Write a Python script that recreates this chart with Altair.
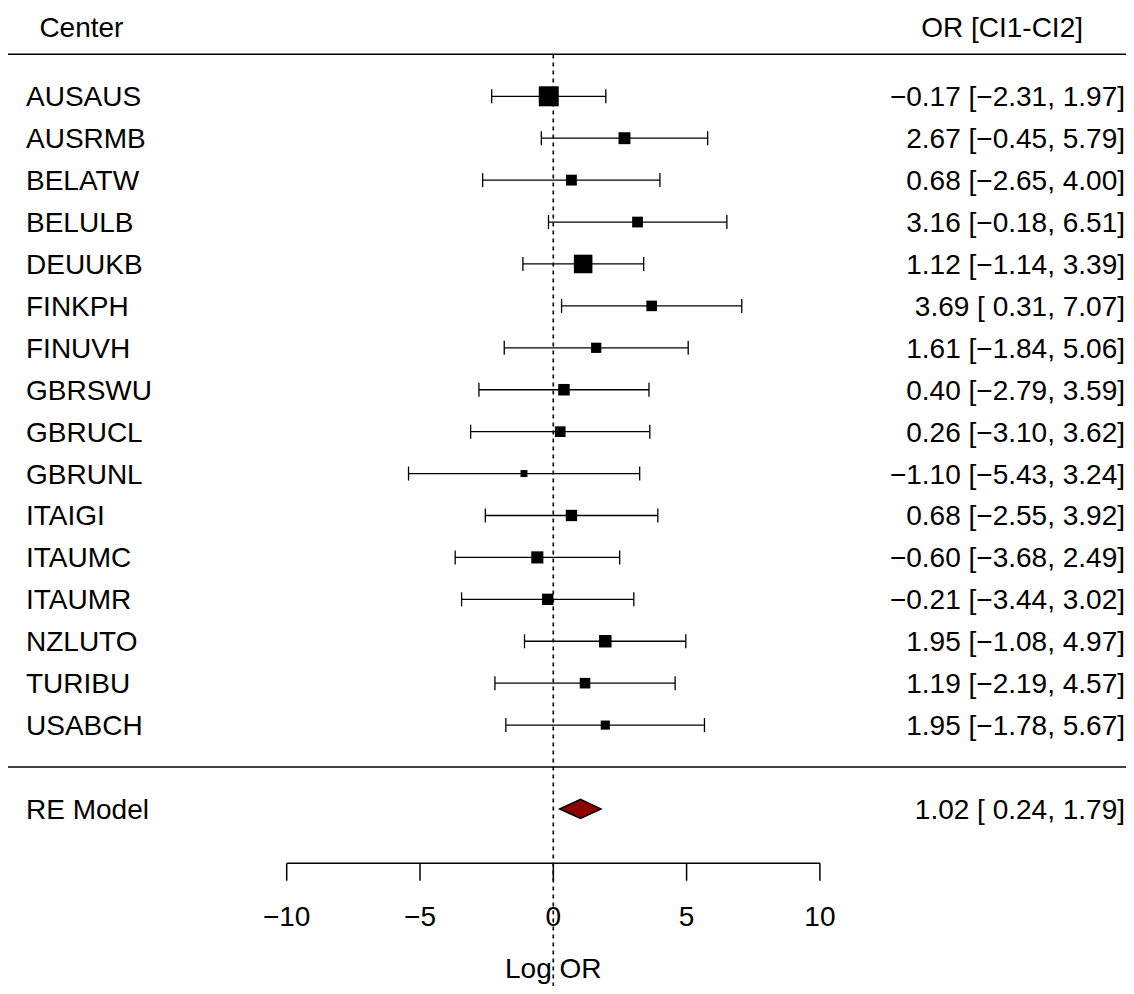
import altair as alt
import pandas as pd

# ---------------- data ----------------
centers = ["AUSAUS", "AUSRMB", "BELATW", "BELULB", "DEUUKB", "FINKPH", "FINUVH", "GBRSWU",
           "GBRUCL", "GBRUNL", "ITAIGI", "ITAUMC", "ITAUMR", "NZLUTO", "TURIBU", "USABCH"]
log_or = [-0.17, 2.67, 0.68, 3.16, 1.12, 3.69, 1.61, 0.40, 0.26, -1.10, 0.68, -0.60, -0.21, 1.95, 1.19, 1.95]
ci_low = [-2.31, -0.45, -2.65, -0.18, -1.14, 0.31, -1.84, -2.79, -3.10, -5.43, -2.55, -3.68, -3.44, -1.08, -2.19, -1.78]
ci_high = [1.97, 5.79, 4.00, 6.51, 3.39, 7.07, 5.06, 3.59, 3.62, 3.24, 3.92, 2.49, 3.02, 4.97, 4.57, 5.67]
weights = [0.916, 0.628, 0.590, 0.586, 0.865, 0.580, 0.568, 0.614, 0.583, 0.452, 0.606, 0.635, 0.607, 0.648, 0.580, 0.526]

re_label = "RE Model"
re_est = 1.02
re_low = 0.24
re_high = 1.79

ticks = [-10, -5, 0, 5, 10]
tick_labels = ["\u221210", "\u22125", "0", "5", "10"]
header_left = "Center"
header_right = "OR [CI1-CI2]"
x_title = "Log OR"
ref_value = 0

# ---------------- helpers ----------------
def fmt(v, width=None):
    s = f"{v:.2f}"
    if width:
        s = s.rjust(width)
    return s.replace("-", "\u2212")


def ann(e, l, h):
    return f"{fmt(e)} [{fmt(l, 5)}, {fmt(h)}]"


k = len(centers)
studies = pd.DataFrame({
    "row": [k - i for i in range(k)],
    "center": centers,
    "est": log_or,
    "lb": ci_low,
    "ub": ci_high,
    "w": weights,
    "ann": [ann(e, l, h) for e, l, h in zip(log_or, ci_low, ci_high)],
})
summary = pd.DataFrame({"row": [-1], "center": [re_label], "est": [re_est], "lb": [re_low],
                        "ub": [re_high], "ann": [ann(re_est, re_low, re_high)]})
# diamond vertices: the three summary values (tip = 1 at the estimate)
diamond_df = pd.DataFrame({"dx": [re_low, re_est, re_high], "tip": [0, 1, 0], "row": [-1, -1, -1]})
seps = pd.DataFrame({"row": [k + 1, 0]})
tick_df = pd.DataFrame({"t": ticks, "lab": tick_labels})
axis_df = pd.DataFrame({"a": [ticks[0]], "b": [ticks[-1]], "mid": [(ticks[0] + ticks[-1]) / 2],
                        "title": [x_title]})
ref_df = pd.DataFrame({"ref": [ref_value]})

# ---------------- layout ----------------
W, H = 1118, 978
FONT = "Liberation Sans"
FS = 28
xs = alt.Scale(domain=[-20.454, 21.482], nice=False, zero=False)
ys = alt.Scale(domain=[-5.224, 18.106], nice=False, zero=False)


def X(f):
    return alt.X(f, type="quantitative", scale=xs, axis=None)


def Y(f):
    return alt.Y(f, type="quantitative", scale=ys, axis=None)


AX_Y = 855.3
TICK_Y2 = 872.7
LAB_Y = 918
TITLE_Y = 970.3

refline = alt.Chart(ref_df).mark_rule(strokeDash=[4, 4], strokeWidth=1.6, color="black").encode(
    x=X("ref"), y=alt.value(46.4), y2=alt.value(H))

sep_lines = alt.Chart(seps).mark_rule(strokeWidth=1.5, color="black").encode(
    x=alt.value(0), x2=alt.value(W), y=Y("row"))

ci = alt.Chart(studies).mark_rule(strokeWidth=1.3, color="black").encode(
    x=X("lb"), x2=alt.X2("ub"), y=Y("row"))

ends = alt.Chart(studies).transform_fold(["lb", "ub"], as_=["end", "val"]).mark_tick(
    orient="vertical", size=14, thickness=1.3, color="black", opacity=1).encode(
    x=X("val"), y=Y("row"))

squares = alt.Chart(studies).transform_calculate(
    sz="pow(7 + 28 * (datum.w - 0.452), 2)").mark_square(
    color="black", opacity=1, filled=True).encode(
    x=X("est"), y=Y("row"), size=alt.Size("sz:Q", scale=None, legend=None))

diamond = alt.Chart(diamond_df).transform_calculate(
    yt="datum.row + 0.227 * datum.tip", yb="datum.row - 0.227 * datum.tip").mark_area(
    orient="vertical", fill="#8B0000", stroke="black", strokeWidth=1.5, opacity=1,
    fillOpacity=1).encode(
    x=X("dx"), y=Y("yt"), y2=alt.Y2("yb"))

all_rows = pd.concat([studies, summary], ignore_index=True)

left_txt = alt.Chart(all_rows).mark_text(align="left", baseline="alphabetic", dy=10,
                                         fontSize=FS, font=FONT, color="black").encode(
    x=alt.value(18), y=Y("row"), text="center:N")

right_txt = alt.Chart(all_rows).mark_text(align="right", baseline="alphabetic", dy=10,
                                          fontSize=FS, font=FONT, color="black").encode(
    x=alt.value(1117), y=Y("row"), text="ann:N")

hdr_l = alt.Chart(pd.DataFrame({"t": [header_left]})).mark_text(
    align="left", baseline="alphabetic", fontSize=FS, font=FONT, color="black").encode(
    x=alt.value(31.4), y=alt.value(28.7), text="t:N")

hdr_r = alt.Chart(pd.DataFrame({"t": [header_right]})).mark_text(
    align="right", baseline="alphabetic", fontSize=FS, font=FONT, color="black").encode(
    x=alt.value(1075), y=alt.value(28.7), text="t:N")

axis_line = alt.Chart(axis_df).mark_rule(strokeWidth=1.5, color="black").encode(
    x=X("a"), x2=alt.X2("b"), y=alt.value(AX_Y))

tick_marks = alt.Chart(tick_df).mark_rule(strokeWidth=1.5, color="black").encode(
    x=X("t"), y=alt.value(AX_Y), y2=alt.value(TICK_Y2))

tick_text = alt.Chart(tick_df).mark_text(align="center", baseline="alphabetic",
                                         fontSize=FS, font=FONT, color="black").encode(
    x=X("t"), y=alt.value(LAB_Y), text="lab:N")

title_text = alt.Chart(axis_df).mark_text(align="center", baseline="alphabetic",
                                          fontSize=FS, font=FONT, color="black").encode(
    x=X("mid"), y=alt.value(TITLE_Y), text="title:N")

chart = alt.layer(
    refline, sep_lines, ci, ends, squares, diamond,
    left_txt, right_txt, hdr_l, hdr_r,
    axis_line, tick_marks, tick_text, title_text,
).properties(
    width=W, height=H, padding=0, autosize="none", background="white"
).configure_view(stroke=None)

chart.save("out.html", embed_options={"renderer": "svg", "actions": False})
